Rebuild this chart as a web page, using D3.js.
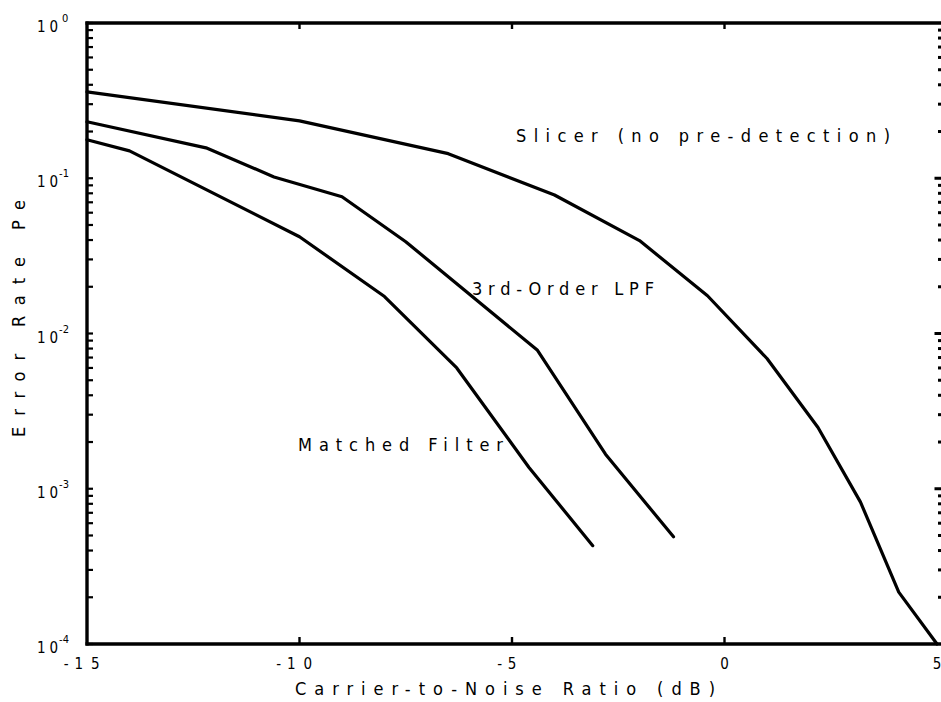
<!DOCTYPE html>
<html>
<head>
<meta charset="utf-8">
<script src="https://cdn.jsdelivr.net/npm/d3@7"></script>
<style>
  html, body { margin: 0; padding: 0; background: #fff; }
  svg { display: block; }
  text { font-family: "Liberation Sans Narrow", "DejaVu Sans Condensed", "Arial Narrow", sans-serif; fill: #000; }
</style>
</head>
<body>
<svg id="chart" width="941" height="702"></svg>
<script>
// ---- data ----
const xSlicer  = [-15, -10, -6.5, -4, -2, -0.4, 1, 2.2, 3.2, 4.1, 5];
const peSlicer = [0.36, 0.234, 0.144, 0.078, 0.0397, 0.0175, 0.0069, 0.00248, 0.00082, 0.000216, 0.0001];
const xLpf  = [-15, -12.2, -10.6, -9, -7.5, -4.4, -2.8, -1.2];
const peLpf = [0.231, 0.157, 0.102, 0.076, 0.039, 0.0078, 0.00167, 0.00049];
const xMf  = [-15, -14, -10, -8, -6.3, -4.6, -3.1];
const peMf = [0.177, 0.150, 0.042, 0.0173, 0.0060, 0.00137, 0.00043];

const xTicks = [-15, -10, -5, 0, 5];
const yDecades = [0, -1, -2, -3, -4];
const seriesLabels = ["Slicer (no pre-detection)", "3rd-Order LPF", "Matched Filter"];
const xTitle = "Carrier-to-Noise Ratio (dB)";
const yTitle = "Error Rate Pe";

// ---- layout ----
const L = 87, R = 937, T = 23, B = 644;
const svg = d3.select("#chart");
const x = d3.scaleLinear().domain([-15, 5]).range([L, R]);
const y = d3.scaleLog().domain([1e-4, 1]).range([B, T]);

// minor tick values
const minorVals = [];
for (let e = -4; e < 0; e++) for (let m = 2; m <= 9; m++) minorVals.push(m * Math.pow(10, e));
const decadeVals = yDecades.map(e => Math.pow(10, e));

// ---- curves ----
const line = d3.line().x(d => x(d[0])).y(d => y(d[1]));
const series = [
  d3.zip(xSlicer, peSlicer),
  d3.zip(xLpf, peLpf),
  d3.zip(xMf, peMf)
];
svg.append("g").selectAll("path").data(series).join("path")
  .attr("d", line)
  .attr("fill", "none")
  .attr("stroke", "#000")
  .attr("stroke-width", 3.2)
  .attr("stroke-linejoin", "round")
  .attr("stroke-linecap", "round");

// ---- frame ----
const ax = svg.append("g").attr("stroke", "#000");
// left axis
ax.append("line").attr("x1", L).attr("x2", L).attr("y1", T - 1.5).attr("y2", B + 1.5).attr("stroke-width", 3.4);
// bottom axis
ax.append("line").attr("x1", L - 1.5).attr("x2", 941).attr("y1", B).attr("y2", B).attr("stroke-width", 3.4);
// top axis
ax.append("line").attr("x1", L - 1.5).attr("x2", 941).attr("y1", T).attr("y2", T).attr("stroke-width", 3.4);

// left ticks (inward)
ax.selectAll(".ly").data(minorVals.concat(decadeVals)).join("line")
  .attr("x1", L).attr("x2", L + 6)
  .attr("y1", d => y(d)).attr("y2", d => y(d))
  .attr("stroke-width", 2.2);

// bottom / top ticks
const innerX = xTicks.filter(v => v > -15 && v < 5);
ax.selectAll(".bx").data(innerX).join("line")
  .attr("x1", d => x(d)).attr("x2", d => x(d))
  .attr("y1", B).attr("y2", B - 7).attr("stroke-width", 2.4);
ax.selectAll(".tx").data(innerX).join("line")
  .attr("x1", d => x(d)).attr("x2", d => x(d))
  .attr("y1", T).attr("y2", T + 6).attr("stroke-width", 2.4);

// right side: dotted ticks only
svg.append("g").selectAll("rect").data(minorVals).join("rect")
  .attr("x", 938).attr("y", d => y(d) - 1.5).attr("width", 3).attr("height", 3).attr("fill", "#000");
svg.append("g").selectAll("rect").data(decadeVals.filter(v => v < 1 && v > 1e-4)).join("rect")
  .attr("x", 934.5).attr("y", d => y(d) - 1.5).attr("width", 7).attr("height", 3).attr("fill", "#000");

// ---- tick labels ----
// y labels: "10" with superscript exponent
const yl = svg.append("g");
yDecades.forEach(e => {
  const yy = y(Math.pow(10, e));
  yl.append("text").attr("x", 37).attr("y", yy + 9)
    .attr("font-size", 15).attr("textLength", 21).attr("lengthAdjust", "spacing").text("10");
  const expStr = e === 0 ? "0" : "-" + Math.abs(e);
  yl.append("text").attr("x", e === 0 ? 62 : 59).attr("y", yy - 1)
    .attr("font-size", 11)
    .attr("textLength", e === 0 ? 6 : 10).attr("lengthAdjust", "spacing")
    .text(expStr);
});

// x labels: digits centered on tick, minus hanging left
const xl = svg.append("g");
xTicks.forEach(v => {
  const digits = String(Math.abs(v));
  const w = digits.length > 1 ? 25 : 8;
  const t = xl.append("text").attr("x", x(v)).attr("y", 669)
    .attr("font-size", 15).attr("text-anchor", "middle").text(digits);
  if (digits.length > 1) t.attr("textLength", w).attr("lengthAdjust", "spacing");
  if (v < 0) {
    xl.append("text").attr("x", x(v) - w / 2 - 6).attr("y", 669)
      .attr("font-size", 15).attr("text-anchor", "end").text("-");
  }
});

// ---- axis titles ----
svg.append("text").attr("x", 295).attr("y", 695)
  .attr("font-size", 18).attr("textLength", 420).attr("lengthAdjust", "spacing")
  .text(xTitle);
svg.append("text")
  .attr("transform", "translate(25,437) rotate(-90)")
  .attr("font-size", 18).attr("textLength", 237).attr("lengthAdjust", "spacing")
  .text(yTitle);

// ---- curve labels ----
const labelPos = [
  { x0: 516, len: 374, base: 142 },
  { x0: 472, len: 182, base: 295 },
  { x0: 298, len: 205, base: 451 }
];
svg.append("g").selectAll("text").data(seriesLabels).join("text")
  .attr("x", (d, i) => labelPos[i].x0)
  .attr("y", (d, i) => labelPos[i].base)
  .attr("font-size", 18)
  .attr("textLength", (d, i) => labelPos[i].len)
  .attr("lengthAdjust", "spacing")
  .text(d => d);
</script>
</body>
</html>
